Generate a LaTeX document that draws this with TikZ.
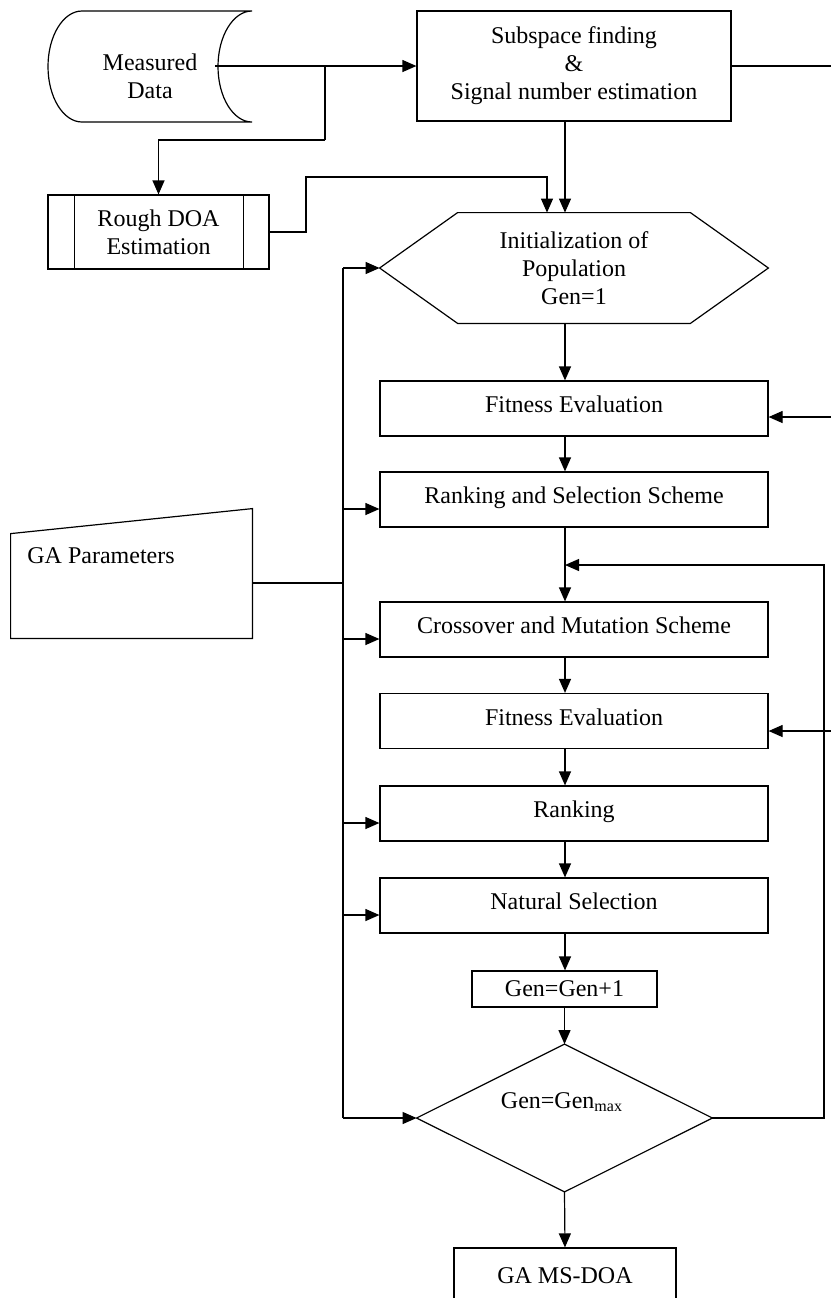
\documentclass[tikz,border=0pt]{standalone}
\usepackage{fontspec}
\setmainfont{Liberation Serif}
\usetikzlibrary{arrows.meta,calc}
\begin{document}
\begin{tikzpicture}[x=0.5pt,y=-0.5pt,
  every node/.style={font=\fontsize{12}{14}\selectfont},
  line/.style={line width=0.6pt},
  arr/.style={line width=0.6pt,-{Triangle[length=7pt,width=6pt]}},
  box/.style={draw,line width=0.6pt,minimum width=194pt,minimum height=27.5pt,inner sep=0pt,align=center},
  onel/.style={text height=8pt,text depth=3.6pt},
  ghost/.style={inner sep=0pt,align=center}]
\fill[white] (0,0) rectangle (831,1298);
\useasboundingbox (0,0) rectangle (831,1298);
\clip (0,0) rectangle (831,1298);

% Measured data (stored data symbol)
\draw[line] (82,11) -- (252,11)
  arc[start angle=90,end angle=270,x radius=17pt,y radius=27.75pt]
  -- (82,122)
  arc[start angle=270,end angle=90,x radius=17pt,y radius=27.75pt] -- cycle;
\node[ghost] (meas) at (150,76) {Measured\\Data};
\coordinate (mdout) at (215,66);

% Subspace box
\node[box,minimum width=157pt,minimum height=55pt] (sub) at (574,66) {Subspace finding\\\&\\Signal number estimation};

% Rough DOA (predefined process)
\node[box,minimum width=110.5pt,minimum height=37pt] (rough) at (158.5,232) {Rough DOA\\Estimation};
\draw[line] ([xshift=13.5pt]rough.north west) -- ([xshift=13.5pt]rough.south west);
\draw[line] ([xshift=-13pt]rough.north east) -- ([xshift=-13pt]rough.south east);

% Initialization hexagon
\node[ghost,minimum width=194pt,minimum height=55pt] (init) at (574,268) {Initialization of\\Population\\Gen=1};
\draw[line] (init.west) -- ([xshift=39pt]init.north west) -- ([xshift=-39pt]init.north east)
  -- (init.east) -- ([xshift=-39pt]init.south east) -- ([xshift=39pt]init.south west) -- cycle;

% Main boxes
\node[box,onel] (fit1) at (574,408.5) {Fitness Evaluation};
\node[box,onel] (rank1) at (574,499.5) {Ranking and Selection Scheme};
\node[box,onel] (cross) at (574,629.5) {Crossover and Mutation Scheme};
\node[box,onel] (fit2) at (574,721) {Fitness Evaluation};
\node[box,onel] (rank) at (574,813.5) {Ranking};
\node[box,onel] (nat) at (574,905.5) {Natural Selection};
\node[box,minimum width=92.5pt,minimum height=18pt] (gen) at (564.5,989) {Gen=Gen+1};

% Decision diamond
\node[ghost,minimum width=147.5pt,minimum height=73.5pt] (dec) at (564.5,1118) {};
\draw[line] (dec.north) -- (dec.east) -- (dec.south) -- (dec.west) -- cycle;
\node[ghost] (dectext) at (562,1102) {Gen=Gen\textsubscript{max}};

% Output
\node[box,minimum width=111pt,minimum height=28pt] (out) at (565,1276) {GA MS-DOA};

% GA parameters (manual input)
\node[ghost,minimum width=120.5pt,minimum height=64.5pt] (ga) at (131.5,573.5) {};
\draw[line] ([yshift=-12.5pt]ga.north west) -- (ga.north east) -- (ga.south east) -- (ga.south west) -- cycle;
\node[ghost,anchor=base west] (gatext) at (27,563) {GA Parameters};

% Helper coordinates
\coordinate (c) at (565,0);
\coordinate (bus) at (343,0);
\coordinate (br1) at (325,66);
\coordinate (br2) at (325,140);
\coordinate (ra) at (306,177);
\coordinate (rb) at (547,177);
\coordinate (rt1) at (832,66);
\coordinate (rt2) at (832,417);
\coordinate (rt3) at (832,731);
\coordinate (lp) at (824,565);
\coordinate (gaj) at (343,583);

% Top connectors
\draw[arr] (mdout) -- (sub.west);
\draw[line] (br1) -- (br2);
\draw[arr] (br2) -| (rough.north);
\draw[arr] (rough.east) -| (ra) -- (rb) -- (rb |- init.north);
\draw[arr] (sub.south -| c) -- (init.north -| c);
\draw[line] (sub.east) -- (rt1);

% Main chain
\draw[arr] (init.south -| c) -- (fit1.north -| c);
\draw[arr] (fit1.south -| c) -- (rank1.north -| c);
\draw[arr] (rank1.south -| c) -- (cross.north -| c);
\draw[arr] (cross.south -| c) -- (fit2.north -| c);
\draw[arr] (fit2.south -| c) -- (rank.north -| c);
\draw[arr] (rank.south -| c) -- (nat.north -| c);
\draw[arr] (nat.south -| c) -- (gen.north -| c);
\draw[arr] (gen.south) -- (dec.north);
\draw[arr] (dec.south) -- (out.north);

% Right-side inputs
\draw[arr] (rt2) -- (rt2 -| fit1.east);
\draw[arr] (rt3) -- (rt3 -| fit2.east);

% Loop back
\draw[arr] (dec.east) -| (lp) -- (lp -| c);

% GA parameters bus
\draw[line] (gaj -| ga.east) -- (gaj);
\draw[line] (bus |- init.west) -- (bus |- dec.west);
\draw[arr] (bus |- init.west) -- (init.west);
\coordinate (in1) at ([yshift=-4.75pt]rank1.west);
\coordinate (in2) at ([yshift=-4.75pt]cross.west);
\coordinate (in3) at ([yshift=-4.75pt]rank.west);
\coordinate (in4) at ([yshift=-4.75pt]nat.west);
\draw[arr] (bus |- in1) -- (in1);
\draw[arr] (bus |- in2) -- (in2);
\draw[arr] (bus |- in3) -- (in3);
\draw[arr] (bus |- in4) -- (in4);
\draw[arr] (bus |- dec.west) -- (dec.west);
\end{tikzpicture}
\end{document}
